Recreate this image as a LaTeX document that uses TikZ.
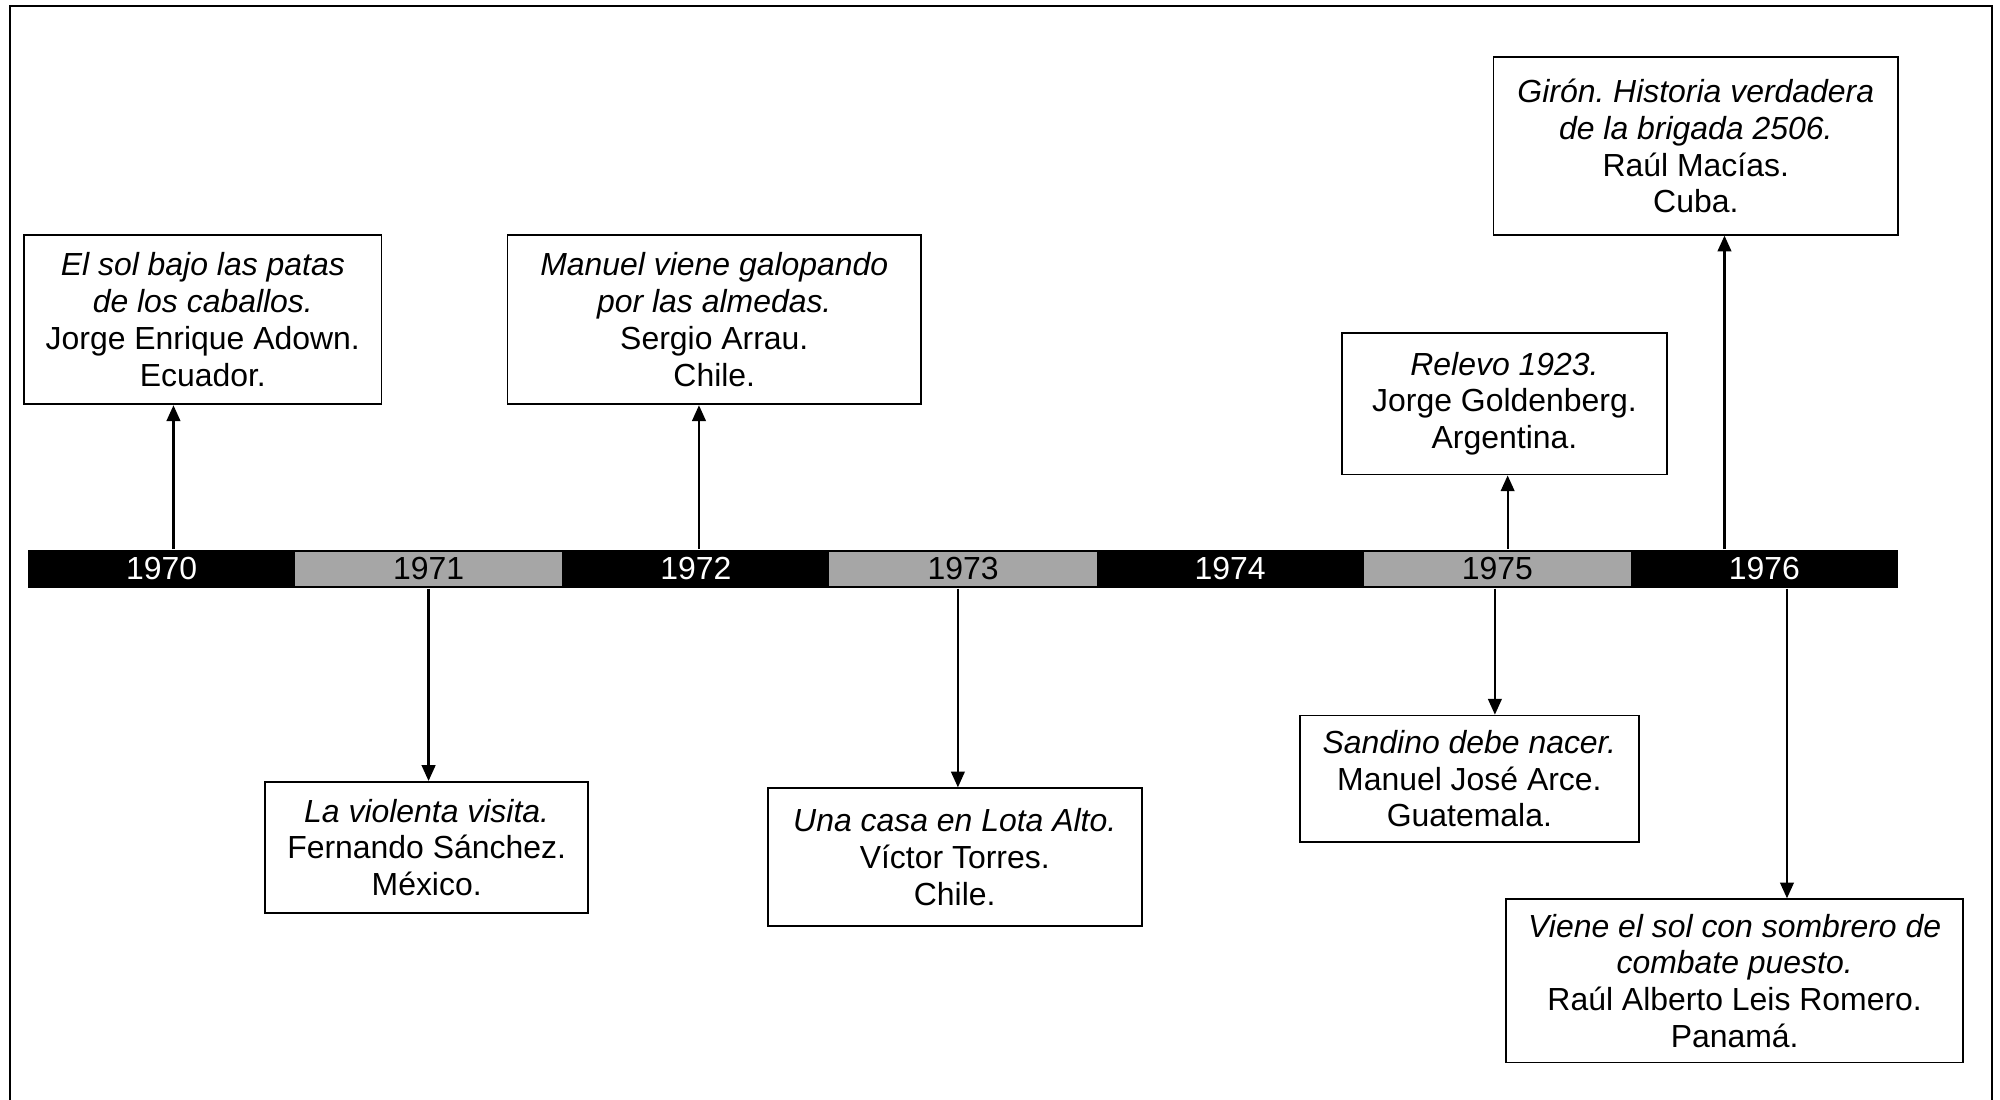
\documentclass[tikz,border=0pt]{standalone}
\usepackage{fontspec}
\setmainfont{Liberation Sans}
\usetikzlibrary{arrows.meta}
\definecolor{segGray}{HTML}{A6A6A6}
\frenchspacing
\begin{document}
\begin{tikzpicture}[x=0.0125cm,y=-0.0125cm,
  every node/.style={font=\fontsize{8.9}{10.25}\selectfont},
  evbox/.style={draw=black,line width=0.5pt,fill=white,align=center,inner sep=0pt},
  blkseg/.style={minimum width=2.6175cm,minimum height=0.375cm,inner sep=0pt,fill=black,text=white},
  gryseg/.style={minimum width=2.6175cm,minimum height=0.33cm,inner sep=0pt,fill=segGray,text=black},
  arr/.style={line width=0.6pt,-{Triangle[width=3.8pt,length=4.4pt]}}]
\useasboundingbox (0,0) rectangle (1568,862);
\draw[line width=0.5pt] (8,880) -- (8,5) -- (1562,5) -- (1562,880);

% timeline bar
\node[fill=black,minimum width=18.325cm,minimum height=0.375cm,inner sep=0pt] (bar) at (755,446) {};
\node[blkseg] (y1970) at (126.7,446) {1970};
\node[gryseg] (y1971) at (336.1,446) {1971};
\node[blkseg] (y1972) at (545.6,446) {1972};
\node[gryseg] (y1973) at (755,446) {1973};
\node[blkseg] (y1974) at (964.4,446) {1974};
\node[gryseg] (y1975) at (1173.9,446) {1975};
\node[blkseg] (y1976) at (1383.3,446) {1976};

% event boxes
\node[evbox,minimum width=3.5cm,minimum height=1.6625cm] (b1) at (159,250.5)
  {\textit{El sol bajo las patas}\\\textit{de los caballos.}\\Jorge Enrique Adown.\\Ecuador.};
\node[evbox,minimum width=4.05cm,minimum height=1.6625cm] (b2) at (560,250.5)
  {\textit{Manuel viene galopando}\\\textit{por las almedas.}\\Sergio Arrau.\\Chile.};
\node[evbox,minimum width=3.1875cm,minimum height=1.3875cm] (b3) at (1179.5,316.5)
  {\textit{Relevo 1923.}\\Jorge Goldenberg.\\Argentina.};
\node[evbox,minimum width=3.9625cm,minimum height=1.7375cm] (b4) at (1329.5,114.5)
  {\textit{Girón. Historia verdadera}\\\textit{de la brigada 2506.}\\Raúl Macías.\\Cuba.};
\node[evbox,minimum width=3.1625cm,minimum height=1.2875cm] (b5) at (334.5,664.5)
  {\textit{La violenta visita.}\\Fernando Sánchez.\\México.};
\node[evbox,minimum width=3.6625cm,minimum height=1.35cm] (b6) at (748.5,672)
  {\textit{Una casa en Lota Alto.}\\Víctor Torres.\\Chile.};
\node[evbox,minimum width=3.325cm,minimum height=1.2375cm] (b7) at (1152,610.5)
  {\textit{Sandino debe nacer.}\\Manuel José Arce.\\Guatemala.};
\node[evbox,minimum width=4.475cm,minimum height=1.6cm] (b8) at (1360,769)
  {\textit{Viene el sol con sombrero de}\\\textit{combate puesto.}\\Raúl Alberto Leis Romero.\\Panamá.};

% arrow x positions
\coordinate (a1) at (136,0);
\coordinate (a2) at (548,0);
\coordinate (a3) at (1182,0);
\coordinate (a4) at (1352,0);
\coordinate (a5) at (336,0);
\coordinate (a6) at (751,0);
\coordinate (a7) at (1172,0);
\coordinate (a8) at (1401,0);

\draw[arr] (bar.north -| a1) -- (b1.south -| a1);
\draw[arr] (bar.north -| a2) -- (b2.south -| a2);
\draw[arr] (bar.north -| a3) -- (b3.south -| a3);
\draw[arr] (bar.north -| a4) -- (b4.south -| a4);
\draw[arr] (bar.south -| a5) -- (b5.north -| a5);
\draw[arr] (bar.south -| a6) -- (b6.north -| a6);
\draw[arr] (bar.south -| a7) -- (b7.north -| a7);
\draw[arr] (bar.south -| a8) -- (b8.north -| a8);
\end{tikzpicture}
\end{document}
